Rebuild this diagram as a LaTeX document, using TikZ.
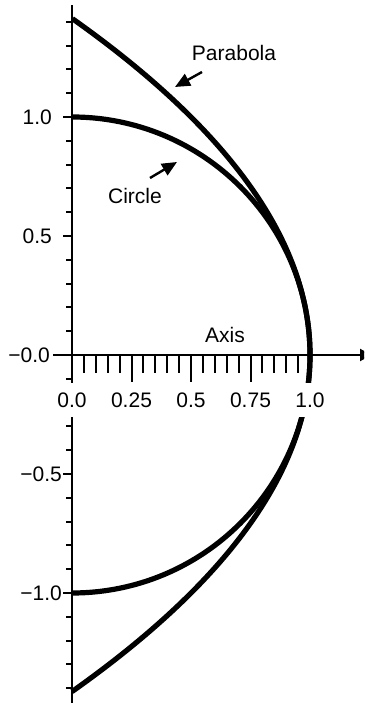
\documentclass[tikz,border=0pt]{standalone}
\usepackage{fontspec}
\setmainfont{Liberation Sans}
\usetikzlibrary{arrows.meta}
\begin{document}
\begin{tikzpicture}[x=238pt,y=238pt,
  every node/.style={font=\fontsize{21}{25}\selectfont, inner sep=0pt},
  axisline/.style={line width=2pt},
  curve/.style={line width=5.2pt},
  xlab/.style={fill=white, minimum height=34pt, inner xsep=2pt},
  ylab/.style={anchor=east},
  pointer/.style={line width=2.4pt, -{Triangle[length=15pt,width=13pt]}}]
\clip (-72pt,-348pt) rectangle (292pt,355pt);
% axes
\coordinate (ybot) at (0,-350pt);
\coordinate (ytop) at (0,350pt);
\coordinate (xl) at (-19pt,0);
\coordinate (xr) at (300pt,0);
\draw[axisline] (ybot) -- (ytop);
\draw[axisline,-{Triangle[length=12pt,width=12pt]}] (xl) -- (xr);
% y ticks
\foreach \i in {-14,...,14} {\ifnum\i=0\else \draw[axisline] (0,\i/10) -- ++(-6pt,0);\fi}
\foreach \v in {-1,-0.5,0.5,1} {\draw[axisline] (0,\v) -- ++(-9pt,0);}
% x ticks
\foreach \i in {1,...,19} {\draw[axisline] (\i/20,0) -- ++(0,-18pt);}
\foreach \v in {0.25,0.5,0.75} {\draw[axisline] (\v,0) -- ++(0,-27pt);}
% curves
\draw[curve] (0,1) arc[start angle=90,end angle=-90,radius=238pt];
\draw[curve] plot[domain=-1.41421:1.41421,samples=121,smooth] ({1-\x*\x/2},\x);
% x labels
\node[xlab] (x0) at (0,-45pt) {0.0};
\node[xlab] (x1) at (0.25,-45pt) {0.25};
\node[xlab] (x2) at (0.5,-45pt) {0.5};
\node[xlab] (x3) at (0.75,-45pt) {0.75};
\node[xlab] (x4) at (1,-45pt) {1.0};
% y labels
\node[ylab] (y1) at (-20pt,1) {1.0};
\node[ylab] (y2) at (-20pt,0.5) {0.5};
\node[ylab] (y3) at (-22pt,0) {−0.0};
\node[ylab] (y4) at (-10pt,-0.5) {−0.5};
\node[ylab] (y5) at (-10pt,-1) {−1.0};
% text labels
\node (axis) at (153pt,20pt) {Axis};
\node (par) at (162pt,302pt) {Parabola};
\node (cir) at (63pt,159pt) {Circle};
\coordinate (pa1) at (130pt,283pt);
\coordinate (pa2) at (103pt,268pt);
\coordinate (ca1) at (78pt,177pt);
\coordinate (ca2) at (105pt,193pt);
\draw[pointer] (pa1) -- (pa2);
\draw[pointer] (ca1) -- (ca2);
\end{tikzpicture}
\end{document}
